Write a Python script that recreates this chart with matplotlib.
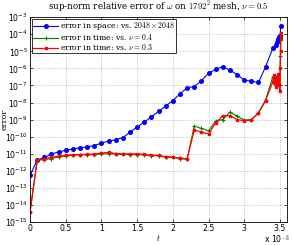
import matplotlib
matplotlib.use("Agg")
import matplotlib.pyplot as plt
from matplotlib.ticker import FixedLocator, FuncFormatter, NullLocator

# time in units of 1e-3
t_base = [0.0, 0.1, 0.2, 0.3, 0.4, 0.5, 0.6, 0.7, 0.8, 0.9, 1.0, 1.1, 1.2, 1.3,
          1.4, 1.5, 1.6, 1.7, 1.8, 1.9, 2.0, 2.1, 2.2, 2.3, 2.4, 2.5, 2.6, 2.7,
          2.8, 2.9, 3.0, 3.1, 3.2, 3.3]

t_space = t_base + [3.4, 3.44, 3.46, 3.47, 3.48, 3.49, 3.50, 3.505, 3.51]
err_space = [5.5e-13, 4.2e-12, 6.0e-12, 9.3e-12, 1.3e-11, 1.55e-11, 1.9e-11,
             2.2e-11, 2.5e-11, 3.0e-11, 4.2e-11, 5.4e-11, 6.6e-11, 8.7e-11,
             1.8e-10, 3.7e-10, 7.1e-10, 1.45e-9, 3.0e-9, 6.2e-9, 1.3e-8,
             3.2e-8, 7.4e-8, 8.5e-8, 1.9e-7, 5.1e-7, 8.9e-7, 1.26e-6, 7.9e-7,
             4.3e-7, 2.1e-7, 1.75e-7, 1.5e-7, 1.26e-6,
             1.5e-5, 2.5e-5, 3.5e-5, 4.5e-5, 5.6e-5, 6.6e-5, 7.6e-5, 8.3e-5,
             3.2e-4]

t_nu04 = t_base + [3.4, 3.42, 3.44, 3.46, 3.48, 3.50, 3.505, 3.51]
err_nu04 = [4.0e-15, 4.2e-12, 4.5e-12, 5.2e-12, 6.3e-12, 7.6e-12, 8.3e-12,
            8.5e-12, 8.7e-12, 8.9e-12, 9.5e-12, 1.0e-11, 9.5e-12, 9.1e-12,
            8.9e-12, 8.9e-12, 8.5e-12, 7.8e-12, 7.4e-12, 6.3e-12, 6.0e-12,
            5.2e-12, 4.7e-12,
            4.2e-10, 3.0e-10, 2.2e-10, 8.3e-10, 1.0e-9, 2.75e-9, 1.6e-9,
            9.3e-10, 1.0e-9, 2.5e-9, 1.4e-8,
            3.2e-7, 1.6e-7, 2.5e-7, 1.26e-7, 2.0e-7, 1.0e-7, 5.0e-6, 8.9e-5]

t_nu03 = t_base + [3.4, 3.42, 3.43, 3.44, 3.45, 3.46, 3.47, 3.48, 3.49, 3.50,
                   3.505, 3.51, 3.513, 3.515]
err_nu03 = [4.0e-15, 4.2e-12, 5.0e-12, 6.0e-12, 7.2e-12, 7.9e-12, 8.7e-12,
            8.9e-12, 9.1e-12, 9.5e-12, 1.07e-11, 1.2e-11, 1.02e-11, 9.8e-12,
            9.5e-12, 9.8e-12, 9.1e-12, 8.1e-12, 7.9e-12, 6.6e-12, 6.3e-12,
            5.5e-12, 5.0e-12,
            2.4e-10, 1.9e-10, 1.4e-10, 6.3e-10, 1.66e-9, 1.7e-9, 1.0e-9,
            8.5e-10, 9.3e-10, 2.4e-9, 1.3e-8,
            1.6e-7, 4.0e-7, 1.26e-7, 3.2e-7, 8.0e-8, 2.5e-7, 1.0e-7, 5.0e-7,
            1.26e-7, 5.0e-8, 1.0e-6, 1.0e-5, 5.0e-5, 1.26e-4]

labels = [r"error in space: vs. $2048\times2048$",
          r"error in time: vs. $\nu=0.4$",
          r"error in time: vs. $\nu=0.3$"]

x_ticks = [0, 0.5, 1, 1.5, 2, 2.5, 3, 3.5]
y_ticks = [1e-15, 1e-14, 1e-13, 1e-12, 1e-11, 1e-10, 1e-9, 1e-8, 1e-7,
           1e-6, 1e-5, 1e-4, 1e-3]

plt.rcParams['mathtext.fontset'] = 'cm'
plt.rcParams['font.family'] = ['DejaVu Sans']

fig = plt.figure(figsize=(2.92, 2.46), dpi=100)
ax = fig.add_axes([0.103, 0.098, 0.880, 0.832])

ax.plot(t_space, err_space, color='#0000ff', marker='o', ms=2.6, lw=0.8,
        label=labels[0])
ax.plot(t_nu04, err_nu04, color='#008000', marker='+', ms=3, mew=0.8, lw=0.8,
        label=labels[1])
ax.plot(t_nu03, err_nu03, color='#ff0000', marker='s', ms=2.0, lw=0.9,
        label=labels[2])

ax.set_yscale('log')
ax.set_xlim(0, 3.6)
ax.set_ylim(1e-15, 1e-3)
ax.xaxis.set_major_locator(FixedLocator(x_ticks))
ax.xaxis.set_major_formatter(FuncFormatter(lambda v, p: f"{v:g}"))
ax.yaxis.set_major_locator(FixedLocator(y_ticks))
ax.yaxis.set_minor_locator(NullLocator())
ax.grid(True, which='major', linestyle=':', color='#b0b0b0', lw=0.6)
ax.tick_params(direction='in', length=2.5, width=0.5, labelsize=5.6, pad=1.5,
               top=True, right=True)
for s in ax.spines.values():
    s.set_linewidth(0.6)

ax.set_title(r"sup-norm relative error of $\omega$ on $1792^2$ mesh, $\nu = 0.5$",
             fontsize=6.3, family='DejaVu Serif', pad=5)
ax.set_ylabel("error", fontsize=5.8, family='DejaVu Serif')
ax.yaxis.set_label_coords(-0.082, 0.5)
ax.set_xlabel(r"$t$", fontsize=6, labelpad=0)
fig.text(0.992, 0.0, r"x 10$^{-3}$", ha='right', va='bottom', fontsize=5.6)

leg = ax.legend(loc='upper left', frameon=True, fancybox=False,
                borderpad=0.15, labelspacing=0.0, handlelength=3.2,
                handletextpad=0.2, borderaxespad=0.25,
                prop={'family': 'DejaVu Serif', 'size': 5.6})
leg.get_frame().set_edgecolor('black')
leg.get_frame().set_linewidth(0.7)

fig.savefig("out.png", dpi=100)
